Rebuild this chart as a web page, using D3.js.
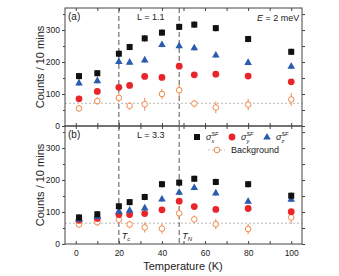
<!DOCTYPE html>
<html><head><meta charset="utf-8">
<script src="https://cdn.jsdelivr.net/npm/d3@7"></script>
<style>body{margin:0;background:#fff}svg{display:block;font-family:Arial,"Liberation Sans",sans-serif}</style>
</head><body><svg id="c" width="339" height="276"></svg>
<script>
const temps = [1.5, 10, 20, 25, 32, 40, 48, 55, 65, 80, 100];
// panel (a) L = 1.1
const aX = [156, 165, 226, 247, 274, 292, 310, 317, 306, 272, 232];
const aY = [85, 108, 121, 127, 155, 152, 187, 160, 162, 156, 138];
const aZ = [135, 142, 202, 200, 207, 255, 251, 245, 222, 199, 187];
const aBg = [55, 78, 88, 63, 68, 100, 112, 70, 58, 67, 83];
const aBgErr = [10, 12, 14, 12, 20, 16, 20, 12, 18, 18, 20];
const aLevel = 71;
// panel (b) L = 3.3
const bX = [83, 93, 118, 131, 147, 187, 192, 204, 194, 187, 151];
const bY = [74, 80, 92, 92, 95, 107, 134, 117, 108, 111, 101];
const bZ = [78, 86, 103, 106, 113, 141, 162, 177, 160, 134, 140];
const bBg = [61, 68, 76, 61, 52, 48, 96, 77, 62, 47, 83];
const bBgErr = [10, 12, 12, 12, 16, 16, 20, 12, 16, 16, 20];
const bLevel = 65;
const sigErr = {x: 10, y: 6, z: 9};
const Tc = 20, TN = 48;
const xTicks = [0, 20, 40, 60, 80, 100];
const yTicks = [0, 100, 200, 300];

const svg = d3.select("#c");
const x = d3.scaleLinear().domain([-5, 105]).range([65, 302]);
const colors = {x: "#111111", y: "#e8252b", z: "#2b5cad", bg: "#f0894a"};

function panel(top, bottom, d, label, L, isBottom) {
  const y = d3.scaleLinear().domain([0, 369]).range([bottom, top]);
  const g = svg.append("g");
  g.append("line").attr("x1", x.range()[0]).attr("x2", x.range()[1])
    .attr("y1", y(d.level)).attr("y2", y(d.level))
    .attr("stroke", "#aaa").attr("stroke-width", 0.8).attr("stroke-dasharray", "2,2");
  [Tc, TN].forEach(t => g.append("line").attr("x1", x(t)).attr("x2", x(t))
    .attr("y1", top).attr("y2", bottom).attr("stroke", "#555").attr("stroke-width", 1)
    .attr("stroke-dasharray", "5,3"));
  const left = d3.axisLeft(y).tickValues(yTicks).tickSize(3).tickPadding(2).tickFormat(d3.format("d"));
  const la = g.append("g").attr("transform", `translate(${x.range()[0]},0)`).call(left);
  const right = d3.axisLeft(y).tickValues(d3.range(0, 369, 50)).tickSize(-3).tickFormat("");
  const ra = g.append("g").attr("transform", `translate(${x.range()[1]},0)`).call(right);
  const bot = d3.axisTop(x).tickValues(d3.range(0, 101, 10)).tickSize(3).tickFormat("");
  const ba = g.append("g").attr("transform", `translate(0,${bottom})`).call(bot);
  const topA = d3.axisBottom(x).tickValues(d3.range(0, 101, 10)).tickSize(3).tickFormat("");
  const ta = g.append("g").attr("transform", `translate(0,${top})`).call(topA);
  const leftMinor = d3.axisLeft(y).tickValues([50, 150, 250, 350]).tickSize(2).tickFormat("");
  const lm = g.append("g").attr("transform", `translate(${x.range()[0]},0)`).call(leftMinor);
  [la, ra, ba, ta, lm].forEach(a => { a.select(".domain").remove(); a.selectAll("line").attr("stroke", "#444"); });
  la.selectAll("text").attr("font-size", 8.5).attr("fill", "#222");
  g.append("rect").attr("x", x.range()[0]).attr("y", top).attr("width", x.range()[1] - x.range()[0])
    .attr("height", bottom - top).attr("fill", "none").attr("stroke", "#444").attr("stroke-width", 1);
  if (isBottom) {
    const xb = d3.axisBottom(x).tickValues(xTicks).tickSize(0).tickPadding(6).tickFormat(d3.format("d"));
    const xa = g.append("g").attr("transform", `translate(0,${bottom})`).call(xb);
    xa.select(".domain").remove();
    xa.selectAll("text").attr("font-size", 8.5).attr("fill", "#222");
  }
  const mk = (vals, err, key) => temps.map((t, i) => ({t, v: vals[i], e: Array.isArray(err) ? err[i] : err, key}));
  const series = [mk(d.bg, d.bgErr, "bg"), mk(d.y, sigErr.y, "y"), mk(d.z, sigErr.z, "z"), mk(d.x, sigErr.x, "x")];
  series.forEach(s => {
    const sg = g.append("g");
    sg.selectAll("line.err").data(s).join("line").attr("class", "err")
      .attr("x1", p => x(p.t)).attr("x2", p => x(p.t))
      .attr("y1", p => y(p.v - p.e)).attr("y2", p => y(p.v + p.e))
      .attr("stroke", colors[s[0].key]).attr("stroke-width", 1);
    s.forEach(p => drawMarker(sg, p.key, x(p.t), y(p.v)));
  });
  g.append("text").attr("x", 68).attr("y", top + 12).attr("font-size", 10).attr("fill", "#222").text(label);
  g.append("text").attr("x", 137).attr("y", top + 12).attr("font-size", 9).attr("fill", "#222").text(L);
  g.append("text").attr("transform", `translate(44,${(top + bottom) / 2}) rotate(-90)`)
    .attr("text-anchor", "middle").attr("font-size", 11).attr("fill", "#222").text("Counts / 10 mins");
  return y;
}

function drawMarker(g, key, cx, cy) {
  if (key === "x") g.append("rect").attr("x", cx - 3).attr("y", cy - 3).attr("width", 6).attr("height", 6).attr("fill", colors.x);
  else if (key === "y") g.append("circle").attr("cx", cx).attr("cy", cy).attr("r", 3.4).attr("fill", colors.y);
  else if (key === "z") g.append("path").attr("d", `M${cx},${cy - 4}L${cx + 3.8},${cy + 2.6}L${cx - 3.8},${cy + 2.6}Z`).attr("fill", colors.z);
  else g.append("circle").attr("cx", cx).attr("cy", cy).attr("r", 2.8).attr("fill", "#fff").attr("stroke", colors.bg).attr("stroke-width", 1);
}

panel(8, 126, {x: aX, y: aY, z: aZ, bg: aBg, bgErr: aBgErr, level: aLevel}, "(a)", "L = 1.1", false);
panel(126, 244, {x: bX, y: bY, z: bZ, bg: bBg, bgErr: bBgErr, level: bLevel}, "(b)", "L = 3.3", true);

const et = svg.append("text").attr("x", 257).attr("y", 21).attr("font-size", 9).attr("fill", "#222");
et.append("tspan").attr("font-style", "italic").text("E");
et.append("tspan").text(" = 2 meV");
const tl = (xx, sub) => { const t = svg.append("text").attr("x", xx).attr("y", 239).attr("font-size", 9).attr("fill", "#222");
  t.append("tspan").attr("font-style", "italic").text("T");
  t.append("tspan").attr("font-style", "italic").attr("font-size", 6).attr("dy", 2).text(sub); };
tl(x(Tc) + 3, "c");
tl(x(TN) + 3, "N");

const legItems = [{key: "x", sub: "x", lx: 197}, {key: "y", sub: "y", lx: 232}, {key: "z", sub: "z", lx: 267}];
legItems.forEach(it => {
  drawMarker(svg, it.key, it.lx, 137);
  const t = svg.append("text").attr("x", it.lx + 9).attr("y", 140).attr("font-size", 9).attr("fill", "#222");
  t.append("tspan").attr("font-style", "italic").text("σ");
  t.append("tspan").attr("font-size", 5.5).attr("font-style", "italic").attr("dy", -4).text("SF");
  t.append("tspan").attr("font-size", 5.5).attr("font-style", "italic").attr("dx", -7).attr("dy", 7).text(it.sub);
});
svg.append("line").attr("x1", 208).attr("x2", 225).attr("y1", 150).attr("y2", 150)
  .attr("stroke", "#aaa").attr("stroke-width", 0.8).attr("stroke-dasharray", "2,2");
drawMarker(svg, "bg", 217, 150);
svg.append("text").attr("x", 231).attr("y", 153).attr("font-size", 9).attr("fill", "#222").text("Background");

svg.append("text").attr("x", 183).attr("y", 270).attr("text-anchor", "middle").attr("font-size", 11).attr("fill", "#222").text("Temperature (K)");
</script></body></html>
